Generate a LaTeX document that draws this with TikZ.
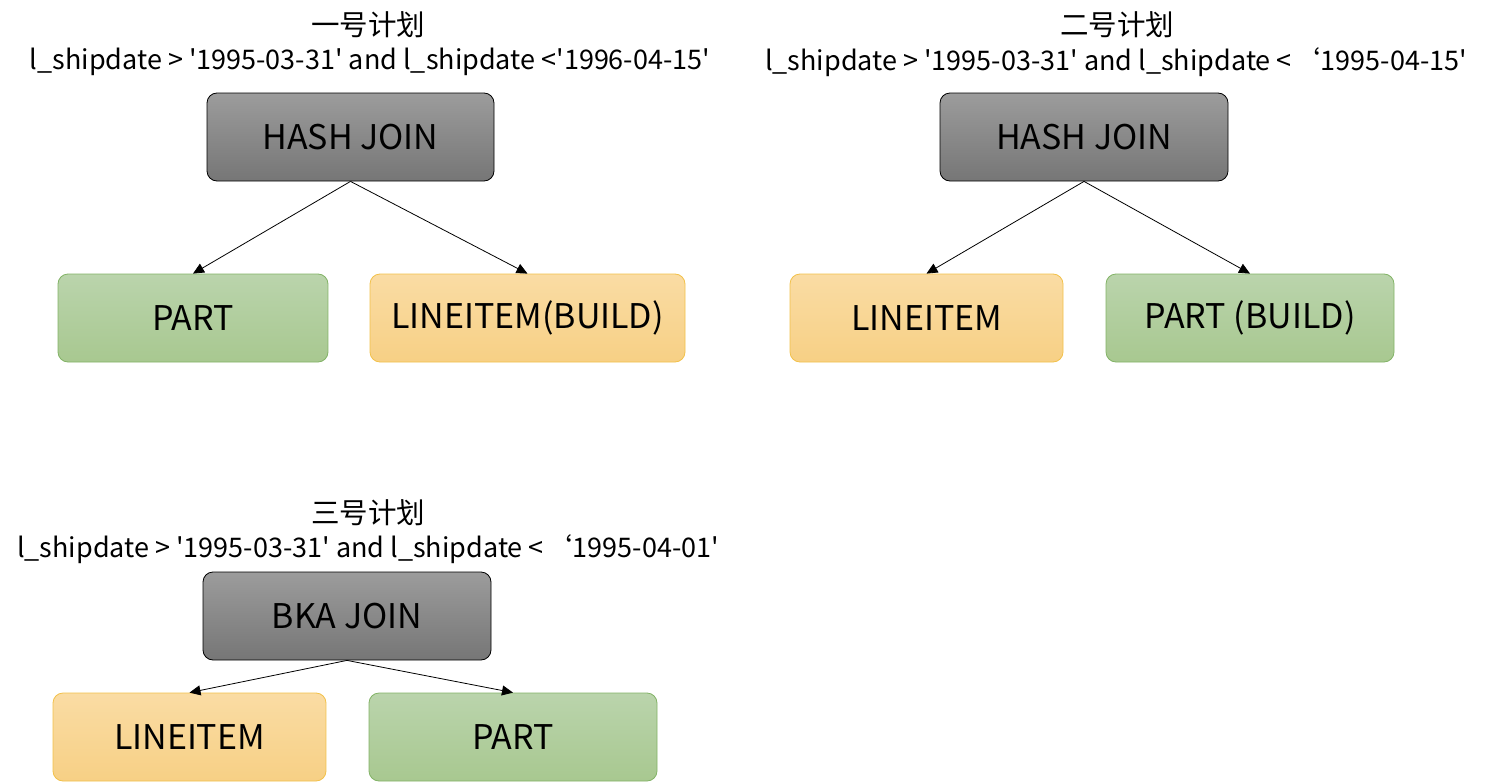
\documentclass[tikz,border=0pt]{standalone}
\usepackage{fontspec}
\setmainfont{Noto Sans CJK SC}[Ligatures=TeXOff]
\usetikzlibrary{arrows.meta}
\definecolor{gtop}{HTML}{9C9C9C}
\definecolor{gbot}{HTML}{767676}
\definecolor{grtop}{HTML}{BAD4AC}
\definecolor{grbot}{HTML}{A8C890}
\definecolor{grline}{HTML}{82B366}
\definecolor{ortop}{HTML}{FADCA4}
\definecolor{orbot}{HTML}{F7D085}
\definecolor{orline}{HTML}{F2C14A}
\newcommand\bxlabel[1]{\raisebox{-2.5pt}{#1}}
\tikzset{
  box/.style={rounded corners=10pt, line width=0.8pt, minimum height=88pt, inner sep=0pt,
    font=\fontsize{34}{40}\selectfont},
  joinbox/.style={box, draw=black, top color=gtop, bottom color=gbot},
  greenbox/.style={box, draw=grline, top color=grtop, bottom color=grbot},
  orangebox/.style={box, draw=orline, top color=ortop, bottom color=orbot},
  title/.style={font=\fontsize{28.5}{32}\selectfont, inner sep=0pt},
  cond/.style={font=\fontsize{27}{32}\selectfont, inner sep=0pt},
  conn/.style={line width=0.8pt, -{Triangle[length=11pt,width=10pt]}}
}
\begin{document}
\begin{tikzpicture}[x=1pt,y=-1pt]
\useasboundingbox (0,0) rectangle (1486,784);
% plan 1
\node[title] (t1) at (368,25) {一号计划};
\node[cond] (c1) at (370,62) {l\_shipdate > '1995-03-31' and l\_shipdate <'1996-04-15'};
\node[joinbox, minimum width=287pt] (j1) at (350.5,137) {\bxlabel{HASH JOIN}};
\node[greenbox, minimum width=270pt] (a1) at (193,318) {\bxlabel{PART}};
\node[orangebox, minimum width=315pt] (b1) at (527.5,318) {\bxlabel{LINEITEM(BUILD)}};
\draw[conn] (j1.south) -- (a1.north);
\draw[conn] (j1.south) -- (b1.north);
% plan 2
\node[title] (t2) at (1117,25) {二号计划};
\node[cond] (c2) at (1116,62) {l\_shipdate > '1995-03-31' and l\_shipdate <\hspace{2pt}‘1995-04-15'};
\node[joinbox, minimum width=288pt] (j2) at (1084,137) {\bxlabel{HASH JOIN}};
\node[orangebox, minimum width=273pt] (a2) at (926.5,318) {\bxlabel{LINEITEM}};
\node[greenbox, minimum width=288pt] (b2) at (1250,318) {\bxlabel{PART (BUILD)}};
\draw[conn] (j2.south) -- (a2.north);
\draw[conn] (j2.south) -- (b2.north);
% plan 3
\node[title] (t3) at (368,513) {三号计划};
\node[cond] (c3) at (368,549) {l\_shipdate > '1995-03-31' and l\_shipdate <\hspace{2pt}‘1995-04-01'};
\node[joinbox, minimum width=288pt] (j3) at (347,616) {\bxlabel{BKA JOIN}};
\node[orangebox, minimum width=273pt] (a3) at (189.5,737) {\bxlabel{LINEITEM}};
\node[greenbox, minimum width=288pt] (b3) at (513,737) {\bxlabel{PART}};
\draw[conn] (j3.south) -- (a3.north);
\draw[conn] (j3.south) -- (b3.north);
\end{tikzpicture}
\end{document}
